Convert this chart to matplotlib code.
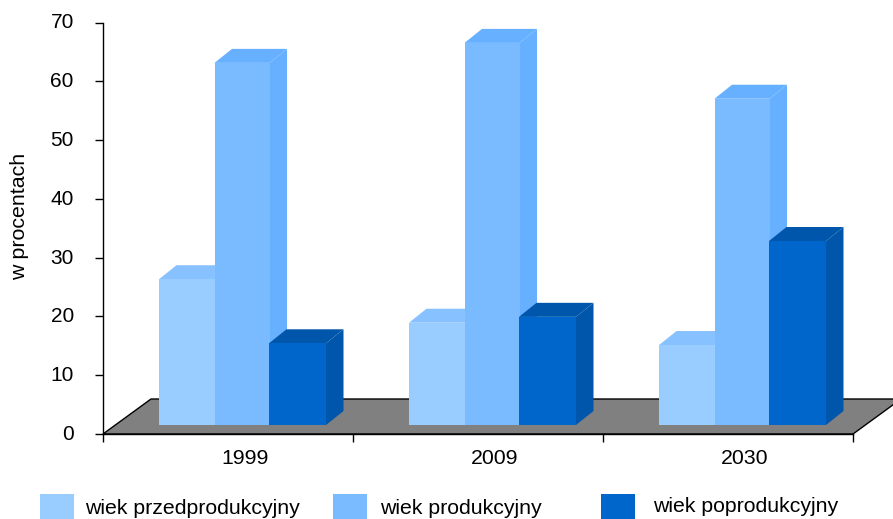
import matplotlib
matplotlib.use("Agg")
from matplotlib import pyplot as plt
from matplotlib.patches import Polygon, Rectangle
from matplotlib.transforms import ScaledTranslation

plt.rcParams["font.family"] = ["Liberation Sans", "DejaVu Sans"]

years = ["1999", "2009", "2030"]
series_names = ["wiek przedprodukcyjny", "wiek produkcyjny", "wiek poprodukcyjny"]
przedprodukcyjny = [24.8, 17.4, 13.6]
produkcyjny = [61.6, 65.0, 55.5]
poprodukcyjny = [13.9, 18.4, 31.3]
series = [przedprodukcyjny, produkcyjny, poprodukcyjny]

front_colors = ["#99CCFF", "#7ABAFF", "#0066CC"]
top_colors = ["#88C1FF", "#66B0FF", "#0056AA"]
side_colors = ["#88C1FF", "#66B0FF", "#0056AA"]

W, H = 893, 519
fig = plt.figure(figsize=(W / 100, H / 100), dpi=100)
ax = fig.add_axes([103 / W, 1 - 434 / H, 750 / W, (434 - 22.5) / H])
ax.set_xlim(-0.5, 2.5)
ax.set_ylim(0, 70)

px_x = 3 / 750
px_y = 70 / (434 - 22.5)
depth_x = 17.5 * px_x
depth_y = 14 * px_y
base = 9 * px_y
lefts = [-69 * px_x, -13.5 * px_x, 41 * px_x]
widths = [55.5 * px_x, 55 * px_x, 57 * px_x]

# gray floor under the bars
floor = Polygon(
    [(-0.5, 0), (2.5, 0), (2.5 + 48 * px_x, 35 * px_y), (-0.5 + 48 * px_x, 35 * px_y)],
    facecolor="#808080", edgecolor="black", linewidth=1.0, clip_on=False, zorder=1,
)
ax.add_patch(floor)

for i, values in enumerate(series):
    for x, v in enumerate(values):
        left = x + lefts[i]
        right = left + widths[i]
        top = base + v
        z = 2 + i + 0.1 * x
        ax.add_patch(Polygon(
            [(right, base), (right + depth_x, base + depth_y), (right + depth_x, top + depth_y), (right, top)],
            facecolor=side_colors[i], edgecolor="none", zorder=z, clip_on=False))
        ax.add_patch(Polygon(
            [(left, top), (left + depth_x, top + depth_y), (right + depth_x, top + depth_y), (right, top)],
            facecolor=top_colors[i], edgecolor="none", zorder=z, clip_on=False))
        ax.bar(left, v, width=widths[i], bottom=base, align="edge",
               color=front_colors[i], linewidth=0, zorder=z + 0.05)

for s in ["top", "right"]:
    ax.spines[s].set_visible(False)
for s in ["left", "bottom"]:
    ax.spines[s].set_linewidth(1.0)
    ax.spines[s].set_zorder(1.5)

ax.set_yticks(range(0, 71, 10))
ax.tick_params(axis="y", labelsize=15, length=6, width=1.0, pad=15)
for label in ax.get_yticklabels():
    label.set_transform(label.get_transform() + ScaledTranslation(0, 1.5 / 100, fig.dpi_scale_trans))
ax.set_xticks([-0.5, 0.5, 1.5, 2.5])
ax.set_xticklabels([])
ax.tick_params(axis="x", length=6, width=1.0)
for x, year in enumerate(years):
    ax.annotate(year, (x, 0), xytext=(17, -25), textcoords="offset pixels",
                ha="center", va="center", fontsize=15.3, annotation_clip=False)

fig.text(19.5 / W, 1 - 216 / H, "w procentach", rotation=90, ha="center", va="center", fontsize=15.4)

# legend is placed by hand, the entries are not on one line in the original
legend_x = [40, 333, 601]
text_x = [85, 380, 653]
text_y = [509, 508, 506]
for i, name in enumerate(series_names):
    fig.add_artist(Rectangle((legend_x[i] / W, 1 - 519 / H), 34 / W, 25 / H,
                             transform=fig.transFigure, facecolor=front_colors[i], edgecolor="none"))
    fig.text(text_x[i] / W, 1 - text_y[i] / H, name, ha="left", va="center", fontsize=15.3)

fig.savefig("out.png", dpi=100)
